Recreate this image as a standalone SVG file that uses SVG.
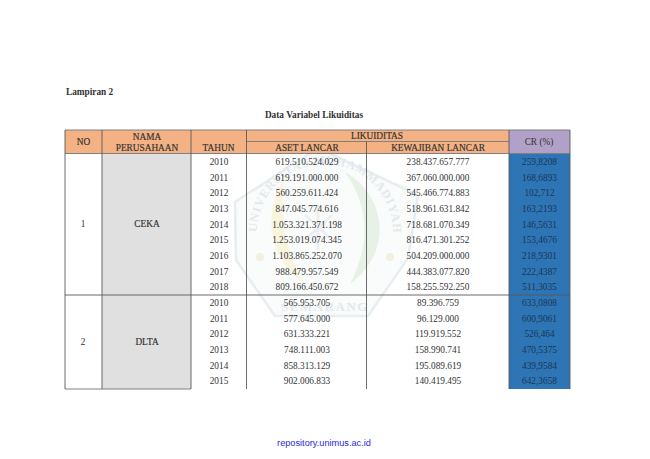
<svg xmlns="http://www.w3.org/2000/svg" width="650" height="459" viewBox="0 0 650 459">
<style>
text{font-family:"Liberation Serif","Times New Roman",serif;font-size:9.3px;fill:#333;text-anchor:middle}
.b{font-weight:bold}
.m{stroke:#333;stroke-width:.18}
.l{stroke:#5a5a5a;stroke-width:.9;fill:none}
.g{stroke:#808080;stroke-width:1;fill:none}
.c text{fill:#1a3654}
text.wt{font-size:12px;fill:#e2e9ed;font-weight:bold;text-anchor:start}
text.ws{font-size:13px;fill:#e2e9ed;font-weight:bold;letter-spacing:1.500px}
</style>
<defs>
<path id="arc" d="M257 232A68 68 0 0 1 393 232"/>
</defs>
<rect width="650" height="459" fill="#fff"/>
<g id="watermark">
<path d="M318 148L418 195L408 258L368 316L275 316L236 260L235 202Z" fill="#fafbfb" stroke="#e7edf1" stroke-width="2.500"/>
<path d="M283 180C262 215 270 262 305 284C286 255 280 215 283 180Z" fill="#f8f5df"/>
<path d="M345 172C385 195 395 250 350 284C368 250 372 210 345 172Z" fill="#e8f1e6"/>
<path d="M318 205V250M305 215L332 240M332 215L305 240" stroke="#eceff1" stroke-width="3" fill="none"/>
<circle cx="260" cy="257" r="4" fill="#f3f0df"/>
<circle cx="390" cy="257" r="4" fill="#f3f0df"/>
<text class="wt"><textPath href="#arc" textLength="214" lengthAdjust="spacing">UNIVERSITAS MUHAMMADIYAH</textPath></text>
<text class="ws" x="325" y="311">SEMARANG</text>
</g>
<g id="header-fills">
<rect x="65" y="130" width="444" height="23.500" fill="#f4b183"/>
<rect x="509" y="130" width="61" height="23.500" fill="#b1a0c7"/>
<rect x="102" y="153.500" width="89" height="235.500" fill="#e0e0e0"/>
<rect x="509" y="153.500" width="61" height="235.500" fill="#2e75b6"/>
</g>
<g id="connectors">
<path class="g" d="M65 130H570M65 153.500H570M246.500 141.500H509M65 389H191"/>
<path class="l" d="M65 295H570"/>
<path class="l" d="M65 130V389M102 130V389M191 130V389M246.500 130V389M366.500 141.500V389M509 130V389M570 130V389"/>
</g>
<text id="title1" class="b" x="66" y="95" style="text-anchor:start">Lampiran 2</text>
<text id="title2" class="b" x="314" y="117.500">Data Variabel Likuiditas</text>
<g id="header">
<text class="m" x="83.500" y="145">NO</text>
<text class="m" x="147" y="139.500">NAMA</text>
<text class="m" x="147" y="150.500">PERUSAHAAN</text>
<text class="m" x="218.500" y="151">TAHUN</text>
<text class="m" x="307" y="151">ASET LANCAR</text>
<text class="m" x="438" y="151">KEWAJIBAN LANCAR</text>
<text class="m" x="377" y="138.500">LIKUIDITAS</text>
<text x="539" y="145">CR (%)</text>
</g>
<g id="node-ceka">
<text x="83" y="227">1</text>
<text class="m" x="147" y="227">CEKA</text>
</g>
<g id="node-dlta">
<text x="83" y="345">2</text>
<text class="m" x="147" y="345">DLTA</text>
</g>
<g id="years">
<text x="219" y="165">2010</text><text x="219" y="180.500">2011</text><text x="219" y="196">2012</text><text x="219" y="211.500">2013</text><text x="219" y="227.500">2014</text><text x="219" y="243">2015</text><text x="219" y="258.500">2016</text><text x="219" y="274.500">2017</text><text x="219" y="290">2018</text>
<text x="219" y="305.500">2010</text><text x="219" y="321.500">2011</text><text x="219" y="337">2012</text><text x="219" y="352.500">2013</text><text x="219" y="368.500">2014</text><text x="219" y="384">2015</text>
</g>
<g id="aset">
<text x="307" y="165">619.510.524.029</text><text x="307" y="180.500">619.191.000.000</text><text x="307" y="196">560.259.611.424</text><text x="307" y="211.500">847.045.774.616</text><text x="307" y="227.500">1.053.321.371.198</text><text x="307" y="243">1.253.019.074.345</text><text x="307" y="258.500">1.103.865.252.070</text><text x="307" y="274.500">988.479.957.549</text><text x="307" y="290">809.166.450.672</text>
<text x="307" y="305.500">565.953.705</text><text x="307" y="321.500">577.645.000</text><text x="307" y="337">631.333.221</text><text x="307" y="352.500">748.111.003</text><text x="307" y="368.500">858.313.129</text><text x="307" y="384">902.006.833</text>
</g>
<g id="kewajiban">
<text x="438" y="165">238.437.657.777</text><text x="438" y="180.500">367.060.000.000</text><text x="438" y="196">545.466.774.883</text><text x="438" y="211.500">518.961.631.842</text><text x="438" y="227.500">718.681.070.349</text><text x="438" y="243">816.471.301.252</text><text x="438" y="258.500">504.209.000.000</text><text x="438" y="274.500">444.383.077.820</text><text x="438" y="290">158.255.592.250</text>
<text x="438" y="305.500">89.396.759</text><text x="438" y="321.500">96.129.000</text><text x="438" y="337">119.919.552</text><text x="438" y="352.500">158.990.741</text><text x="438" y="368.500">195.089.619</text><text x="438" y="384">140.419.495</text>
</g>
<g id="cr" class="c">
<text x="539.500" y="165">259,8208</text><text x="539.500" y="180.500">168,6893</text><text x="539.500" y="196">102,712</text><text x="539.500" y="211.500">163,2193</text><text x="539.500" y="227.500">146,5631</text><text x="539.500" y="243">153,4676</text><text x="539.500" y="258.500">218,9301</text><text x="539.500" y="274.500">222,4387</text><text x="539.500" y="290">511,3035</text>
<text x="539.500" y="305.500">633,0808</text><text x="539.500" y="321.500">600,9061</text><text x="539.500" y="337">526,464</text><text x="539.500" y="352.500">470,5375</text><text x="539.500" y="368.500">439,9584</text><text x="539.500" y="384">642,3658</text>
</g>
<text id="footer" x="324" y="446" style="font-family:'Liberation Sans',Arial,sans-serif;font-size:9.200px;fill:#2a2ae0">repository.unimus.ac.id</text>
</svg>
